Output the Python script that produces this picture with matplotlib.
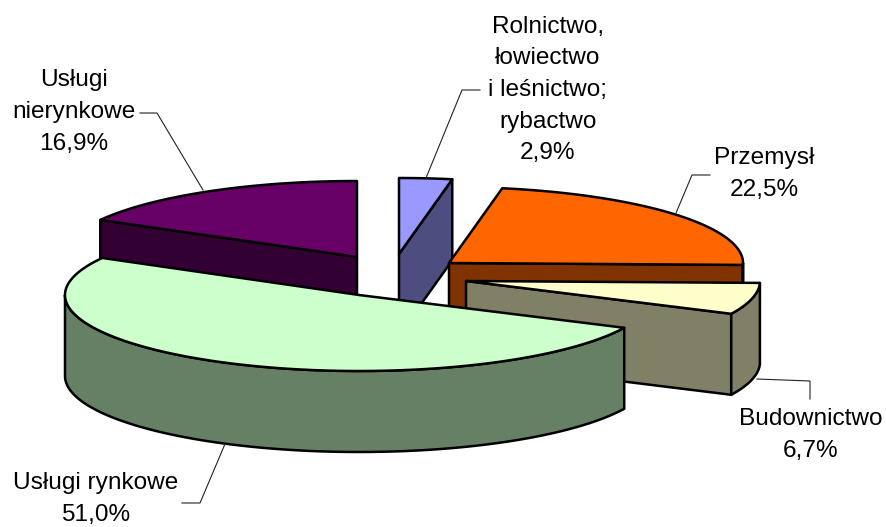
import numpy as np
import matplotlib
matplotlib.use("Agg")
import matplotlib.pyplot as plt
from matplotlib.patches import Polygon

categories = ["Rolnictwo,\nłowiectwo\ni leśnictwo;\nrybactwo", "Przemysł", "Budownictwo",
              "Usługi rynkowe", "Usługi\nnierynkowe"]
values = [2.9, 22.5, 6.7, 51.0, 16.9]
top_colors = ["#9999FF", "#FF6600", "#FFFFCC", "#CCFFCC", "#660066"]
side_colors = ["#4D4D80", "#803300", "#808066", "#668066", "#330033"]
centers = [(399, 254), (449, 263), (466, 281), (359, 295), (357, 257)]
label_pos = [(548, 90), (764, 174), (811, 435), (96, 499), (74, 112)]
leaders = [
    [(480, 90), (462, 90), (426, 178)],
    [(710, 175), (692, 175), (676, 213)],
    [(810, 399), (810, 381), (757, 379)],
    [(182, 503), (200, 503), (225, 444)],
    [(140, 113), (157, 113), (203, 190)],
]
draw_order = [4, 0, 1, 2, 3]
RX, RY, DEPTH = 294, 76, 81

plt.rcParams["font.family"] = ["Liberation Sans", "DejaVu Sans"]
fig = plt.figure(figsize=(8.87, 5.27), dpi=100)
ax = fig.add_axes([0, 0, 1, 1])
ax.set_xlim(0, 887)
ax.set_ylim(527, 0)
ax.axis("off")

edges = np.concatenate([[0], np.cumsum(values)]) / np.sum(values) * 2 * np.pi


def rim(cx, cy, t):
    return np.column_stack([cx + RX * np.sin(t), cy - RY * np.cos(t)])


def poly(pts, fc, z):
    ax.add_patch(Polygon(pts, closed=True, fc=fc, ec="black", lw=1.8, joinstyle="round", zorder=z))


for z, i in enumerate(draw_order):
    a0, a1 = edges[i], edges[i + 1]
    cx, cy = centers[i]
    t = np.linspace(a0, a1, 160)
    top = rim(cx, cy, t)
    drop = np.array([0, DEPTH])
    apex = np.array([cx, cy])
    base = z * 10 + 1
    # cut faces that turn towards the viewer
    if np.sin(a0) < -1e-6:
        p = top[0]
        poly([apex, p, p + drop, apex + drop], side_colors[i], base)
    if np.sin(a1) > 1e-6:
        p = top[-1]
        poly([apex, p, p + drop, apex + drop], side_colors[i], base)
    # curved outer wall
    lo, hi = max(a0, np.pi / 2), min(a1, 3 * np.pi / 2)
    if hi > lo:
        w = rim(cx, cy, np.linspace(lo, hi, 160))
        poly(np.vstack([w, (w + drop)[::-1]]), side_colors[i], base + 1)
    # top face
    poly(np.vstack([apex, top]), top_colors[i], base + 2)

for pts in leaders:
    xs, ys = zip(*pts)
    ax.plot(xs, ys, color="#222222", lw=0.8, zorder=100, solid_joinstyle="miter")

for cat, val, (x, y) in zip(categories, values, label_pos):
    txt = f"{cat}\n{val:.1f}%".replace(".", ",")
    ax.text(x, y, txt, ha="center", va="center", fontsize=17.6, color="black",
            linespacing=1.56, zorder=101)

fig.savefig("out.png", dpi=100)
